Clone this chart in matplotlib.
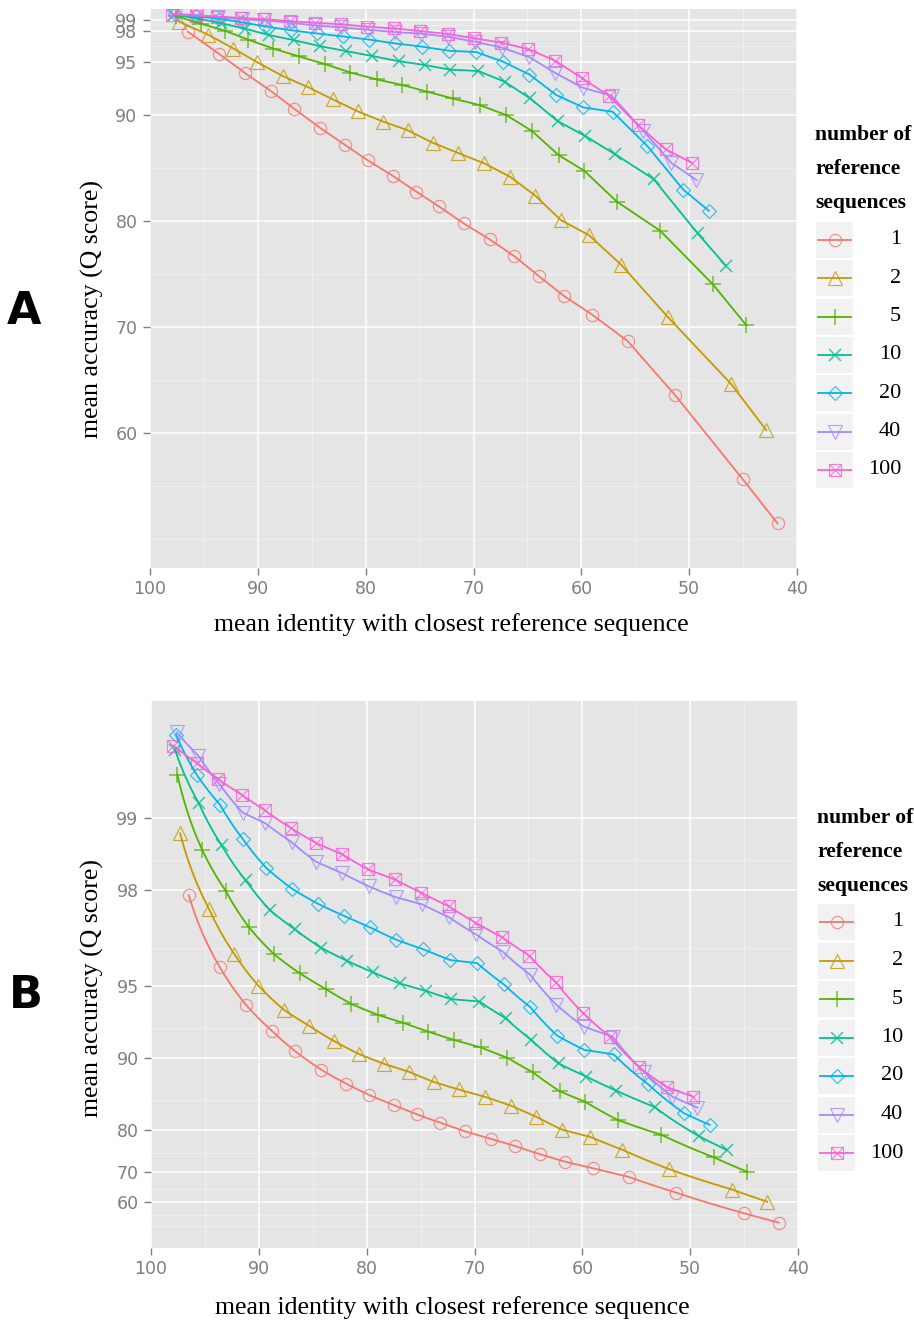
import numpy as np
import matplotlib
matplotlib.use("Agg")
import matplotlib.pyplot as plt
from matplotlib.path import Path
from matplotlib.patches import Rectangle

# number of reference sequences (legend labels) and ggplot hue colours
n_refs = ["1", "2", "5", "10", "20", "40", "100"]
colors = ["#F8766D", "#C49A00", "#53B400", "#00C094", "#00B6EB", "#A58AFF", "#FB61D7"]

# mean identity with closest reference (%), one list per series
ident_1 = [96.5, 93.6, 91.15, 88.8, 86.6, 84.2, 81.9, 79.8, 77.5, 75.3, 73.2,
           70.9, 68.5, 66.2, 63.9, 61.6, 59.0, 55.7, 51.3, 45.05, 41.8]
ident_2 = [97.3, 94.6, 92.26, 90.04, 87.68, 85.31, 83.04, 80.72, 78.35, 76.12, 73.8,
           71.48, 69.0, 66.6, 64.28, 61.9, 59.3, 56.3, 52.0, 46.1, 42.85]
ident_5 = [97.56, 95.25, 93.08, 90.93, 88.58, 86.2, 83.8, 81.42, 78.95, 76.64, 74.29,
           71.92, 69.44, 66.97, 64.58, 62.11, 59.73, 56.7, 52.68, 47.8, 44.7]
ident_10 = [97.78, 95.56, 93.45, 91.23, 88.98, 86.67, 84.26, 81.82, 79.42, 76.94, 74.54,
            72.16, 69.54, 67.12, 64.74, 62.21, 59.64, 56.86, 53.3, 49.22, 46.59]
ident_20 = [97.69, 95.77, 93.61, 91.45, 89.29, 86.88, 84.51, 82.1, 79.66, 77.25, 74.79,
            72.25, 69.75, 67.29, 64.81, 62.33, 59.81, 57.1, 53.89, 50.56, 48.18]
ident_40 = [97.62, 95.62, 93.68, 91.51, 89.44, 86.97, 84.72, 82.25, 79.79, 77.31, 74.88,
            72.38, 69.84, 67.38, 64.81, 62.42, 59.87, 57.18, 54.26, 51.64, 49.32]
ident_100 = [97.94, 95.77, 93.77, 91.6, 89.44, 87.06, 84.72, 82.25, 79.88, 77.41, 74.94,
             72.41, 69.91, 67.44, 64.91, 62.44, 59.97, 57.44, 54.79, 52.19, 49.72]

# mean accuracy (%)
acc_1 = [97.9, 95.8, 93.96, 92.3, 90.6, 88.8, 87.2, 85.75, 84.3, 82.8, 81.4,
         79.8, 78.3, 76.7, 74.8, 72.95, 71.2, 68.7, 63.6, 55.7, 51.5]
acc_2 = [98.84, 97.6, 96.3, 95.0, 93.7, 92.64, 91.5, 90.37, 89.4, 88.6, 87.42,
         86.47, 85.47, 84.2, 82.43, 80.12, 78.7, 75.9, 71.0, 64.65, 60.3]
acc_5 = [99.34, 98.64, 97.99, 97.15, 96.3, 95.56, 94.84, 94.04, 93.38, 92.87, 92.23,
         91.59, 90.97, 90.03, 88.52, 86.25, 84.77, 81.85, 79.11, 74.06, 70.2]
acc_10 = [99.48, 99.13, 98.7, 98.18, 97.58, 97.09, 96.53, 96.06, 95.6, 95.11, 94.75,
          94.31, 94.18, 93.17, 91.6, 89.46, 88.05, 86.32, 83.99, 78.87, 75.81]
acc_20 = [99.55, 99.34, 99.12, 98.77, 98.38, 98.02, 97.72, 97.44, 97.14, 96.78, 96.48,
          96.09, 95.97, 95.07, 93.85, 91.92, 90.74, 90.34, 87.12, 83.0, 81.0]
acc_40 = [99.56, 99.45, 99.28, 99.05, 98.95, 98.74, 98.48, 98.3, 98.07, 97.86, 97.71,
          97.41, 96.94, 96.39, 95.49, 94.0, 92.6, 91.85, 88.55, 85.5, 83.9]
acc_100 = [99.5, 99.41, 99.31, 99.2, 99.07, 98.9, 98.73, 98.58, 98.36, 98.2, 97.95,
           97.67, 97.27, 96.86, 96.25, 95.16, 93.53, 91.85, 89.13, 86.8, 85.5]

identities = [ident_1, ident_2, ident_5, ident_10, ident_20, ident_40, ident_100]
accuracies = [acc_1, acc_2, acc_5, acc_10, acc_20, acc_40, acc_100]

y_ticks = [60, 70, 80, 90, 95, 98, 99]
y_minor = [50, 55, 65, 75, 85, 92.5, 96.5, 98.5]
x_ticks = [100, 90, 80, 70, 60, 50, 40]
x_minor = [95, 85, 75, 65, 55, 45]

# ggplot shapes 1..7 (open circle, triangle, plus, cross, diamond, down triangle, boxed x)
shapes = [("o", 8.8), ("^", 9.6), ("+", 12.0), ("x", 8.6), ("D", 7.0), ("v", 9.6), ("s", 8.4)]

SERIF = "Liberation Serif"
SANS = "DejaVu Sans"


def to_q(p):
    p = np.asarray(p, dtype=float)
    return -10 * np.log10(np.clip(1 - p / 100.0, 1e-6, None))


def from_q(q):
    return 100 * (1 - 10 ** (-np.asarray(q, dtype=float) / 10.0))


def draw_marker(ax, x, y, i, alpha=0.8, zorder=3):
    mk, ms = shapes[i]
    mew = 1.1 if mk in ("+", "x") else 0.85
    ax.plot(x, y, ls="none", marker=mk, ms=ms, mfc="none", mec=colors[i],
            mew=mew, alpha=alpha, zorder=zorder)
    if mk == "s":
        ax.plot(x, y, ls="none", marker="x", ms=ms, mec=colors[i],
                mew=0.85, alpha=alpha, zorder=zorder)


def style_axes(ax):
    ax.set_facecolor("#E5E5E5")
    for s in ax.spines.values():
        s.set_visible(False)
    ax.set_xlim(100, 40)
    ax.set_xticks(x_ticks)
    ax.set_xticks(x_minor, minor=True)
    ax.set_yticks(y_ticks)
    ax.set_yticks(y_minor, minor=True)
    ax.set_yticklabels([str(t) for t in y_ticks])
    ax.yaxis.set_minor_formatter(plt.NullFormatter())
    ax.grid(which="major", color="white", lw=1.1)
    ax.grid(which="minor", color="#F2F2F2", lw=0.6)
    ax.set_axisbelow(True)
    ax.tick_params(which="major", length=5, width=1.0, color="#7F7F7F",
                   labelcolor="#7F7F7F", labelsize=12.5, pad=4)
    ax.tick_params(which="minor", length=0)
    for lab in ax.get_xticklabels() + ax.get_yticklabels():
        lab.set_family(SANS)


W, H = 914, 1322
fig = plt.figure(figsize=(W / 100, H / 100), dpi=100)

# panel A: linear accuracy
axA = fig.add_axes([150 / W, 1 - 568 / H, 647 / W, 559 / H])
style_axes(axA)
axA.set_ylim(47.3, 100.03)
for i in range(len(n_refs)):
    draw_marker(axA, identities[i], accuracies[i], i)
    axA.plot(identities[i], accuracies[i], color=colors[i], lw=1.3, zorder=4)

# panel B: Phred-transformed accuracy (Q score)
axB = fig.add_axes([151 / W, 1 - 1248 / H, 647 / W, 547 / H])
axB.set_yscale("function", functions=(to_q, from_q))
style_axes(axB)
axB.set_ylim(38.1, 99.674)
for i in range(len(n_refs)):
    draw_marker(axB, identities[i], accuracies[i], i)
    # straight segments in accuracy space appear curved on the Q scale
    seg = Path(np.column_stack([identities[i], accuracies[i]])).interpolated(30).vertices
    axB.plot(seg[:, 0], seg[:, 1], color=colors[i], lw=1.3, zorder=4)

# overlay in pixel coordinates for titles, panel letters and legends
ov = fig.add_axes([0, 0, 1, 1], zorder=-1)
ov.set_xlim(0, W)
ov.set_ylim(H, 0)
ov.axis("off")

ov.text(24, 311, "A", fontsize=32, fontweight="bold", family=SANS, ha="center", va="center")
ov.text(26, 995, "B", fontsize=32, fontweight="bold", family=SANS, ha="center", va="center")

for yc in (309, 988):
    ov.text(92, yc, "mean accuracy (Q score)", rotation=90, fontsize=18.6,
            family=SERIF, ha="center", va="center")
for xc, yc in ((451, 625), (452, 1308)):
    ov.text(xc, yc, "mean identity with closest reference sequence", fontsize=18.6,
            family=SERIF, ha="center", va="center")


def draw_legend(x0, title_y, entry_y0, step):
    for k, line in enumerate(["number of", "reference", "sequences"]):
        ov.text(x0, title_y + k * 34, line, fontsize=15.6, fontweight="bold",
                family=SERIF, ha="left", va="center")
    for i, lab in enumerate(n_refs):
        yc = entry_y0 + i * step
        ov.add_patch(Rectangle((x0 + 1, yc - 18), 37, 36, color="#F2F2F2", lw=0))
        ov.plot([x0 + 3, x0 + 36], [yc, yc], color=colors[i], lw=1.3)
        draw_marker(ov, [x0 + 19.5], [yc], i, zorder=5)
        ov.text(x0 + 86, yc, lab, fontsize=16, family=SERIF, ha="right", va="center")


draw_legend(815, 135, 240, 38.3)
draw_legend(817, 818, 922, 38.5)

fig.savefig("out.png", dpi=100)
